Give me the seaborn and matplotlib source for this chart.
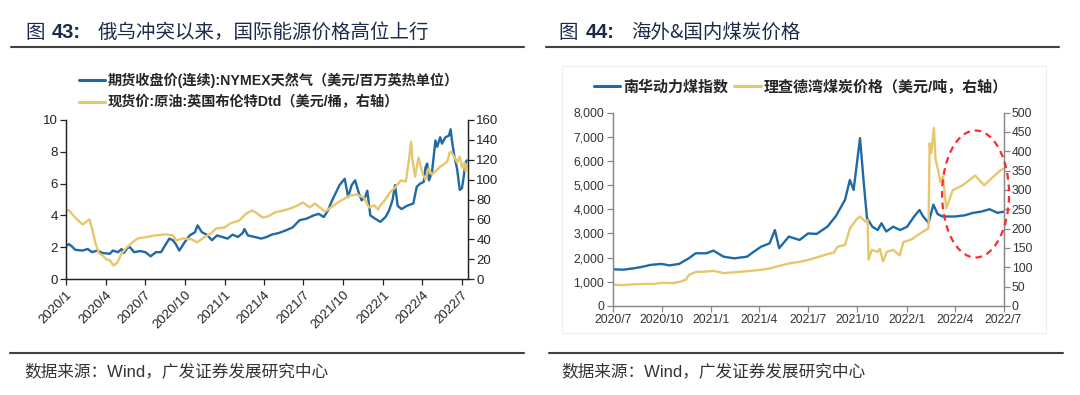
import numpy as np
import pandas as pd
import matplotlib
matplotlib.use("Agg")
import matplotlib.pyplot as plt
from matplotlib.lines import Line2D
from matplotlib.patches import Ellipse, Rectangle
from matplotlib.ticker import FuncFormatter
import seaborn as sns

# ---------------- data ----------------
# Fig 43 - NYMEX natural gas (left axis) and Brent Dtd (right axis)
ng_dates = ["2020-01-01", "2020-01-08", "2020-01-15", "2020-01-22", "2020-02-08", "2020-02-20",
            "2020-03-01", "2020-03-13", "2020-03-25", "2020-04-11", "2020-04-18", "2020-04-30",
            "2020-05-08", "2020-05-13", "2020-05-20", "2020-05-26", "2020-06-06", "2020-06-20",
            "2020-07-02", "2020-07-14", "2020-07-26", "2020-08-07", "2020-08-18", "2020-08-26",
            "2020-09-03", "2020-09-10", "2020-09-18", "2020-10-01", "2020-10-12", "2020-10-24",
            "2020-10-30", "2020-11-09", "2020-11-20", "2020-12-02", "2020-12-14", "2020-12-26",
            "2021-01-07", "2021-01-19", "2021-01-31", "2021-02-11", "2021-02-15", "2021-02-23",
            "2021-03-11", "2021-03-26", "2021-04-07", "2021-04-19", "2021-05-05", "2021-05-20",
            "2021-06-06", "2021-06-22", "2021-07-08", "2021-07-24", "2021-08-05", "2021-08-17",
            "2021-08-26", "2021-09-06", "2021-09-14", "2021-09-22", "2021-10-04", "2021-10-12",
            "2021-10-20", "2021-10-28", "2021-11-05", "2021-11-12", "2021-11-20", "2021-11-25",
            "2021-12-02", "2021-12-13", "2021-12-25", "2022-01-06", "2022-01-14", "2022-01-22",
            "2022-01-28", "2022-02-03", "2022-02-12", "2022-02-24", "2022-03-11", "2022-03-19",
            "2022-03-27", "2022-04-04", "2022-04-08", "2022-04-12", "2022-04-16", "2022-04-23",
            "2022-05-01", "2022-05-05", "2022-05-12", "2022-05-16", "2022-05-24", "2022-06-01",
            "2022-06-05", "2022-06-08", "2022-06-13", "2022-06-20", "2022-06-26", "2022-07-01",
            "2022-07-05", "2022-07-09", "2022-07-12"]
ng_vals = [2.10, 2.20, 2.05, 1.85, 1.80, 1.90,
           1.70, 1.80, 1.65, 1.60, 1.80, 1.70,
           1.90, 1.65, 1.90, 2.05, 1.70, 1.77,
           1.70, 1.44, 1.70, 1.70, 2.20, 2.55,
           2.45, 2.20, 1.80, 2.35, 2.75, 2.95,
           3.38, 2.95, 2.80, 2.45, 2.75, 2.65,
           2.55, 2.80, 2.65, 2.90, 3.15, 2.75,
           2.65, 2.55, 2.65, 2.80, 2.90, 3.05,
           3.25, 3.70, 3.80, 4.00, 4.10, 3.90,
           4.30, 5.00, 5.45, 5.90, 6.30, 5.15,
           5.90, 6.20, 5.45, 4.95, 5.15, 5.55,
           4.00, 3.80, 3.60, 3.90, 4.30, 4.95,
           5.90, 4.60, 4.40, 4.60, 4.75, 5.80,
           6.00, 6.10, 7.00, 7.25, 6.20, 6.70,
           8.70, 8.30, 8.90, 8.50, 8.90, 9.00,
           9.40, 8.70, 7.80, 6.90, 5.60, 5.70,
           6.40, 7.25, 7.45]

brent_dates = ["2020-01-01", "2020-01-08", "2020-01-22", "2020-02-08", "2020-02-15", "2020-02-24",
               "2020-03-01", "2020-03-09", "2020-03-17", "2020-03-25", "2020-04-03", "2020-04-11",
               "2020-04-19", "2020-04-27", "2020-05-01", "2020-05-08", "2020-05-20", "2020-06-02",
               "2020-06-14", "2020-06-30", "2020-07-24", "2020-08-17", "2020-09-03", "2020-09-11",
               "2020-09-27", "2020-10-17", "2020-10-29", "2020-11-14", "2020-11-30", "2020-12-12",
               "2021-01-01", "2021-01-13", "2021-02-03", "2021-02-19", "2021-03-05", "2021-03-16",
               "2021-03-29", "2021-04-10", "2021-04-26", "2021-05-16", "2021-06-01", "2021-06-17",
               "2021-06-30", "2021-07-15", "2021-07-27", "2021-08-08", "2021-08-20", "2021-09-02",
               "2021-09-18", "2021-09-30", "2021-10-16", "2021-11-01", "2021-11-17", "2021-11-29",
               "2021-12-11", "2021-12-20", "2021-12-23", "2022-01-04", "2022-01-16", "2022-01-28",
               "2022-02-10", "2022-02-22", "2022-03-01", "2022-03-06", "2022-03-09", "2022-03-15",
               "2022-03-23", "2022-03-27", "2022-04-02", "2022-04-08", "2022-04-15", "2022-04-23",
               "2022-05-05", "2022-05-12", "2022-05-20", "2022-05-28", "2022-06-03", "2022-06-06",
               "2022-06-13", "2022-06-20", "2022-06-26", "2022-07-01", "2022-07-07", "2022-07-10",
               "2022-07-13"]
brent_vals = [70, 69, 62, 55, 57, 60,
              51, 36, 26, 24, 20, 19,
              14, 16, 19, 26, 32, 37,
              41, 42, 44, 45, 44, 39,
              41, 40, 37, 42, 46, 51,
              52, 56, 59, 66, 69, 66,
              62, 63, 67, 69, 71, 74,
              77, 72, 76, 72, 68, 72,
              77, 80, 84, 85, 82, 72,
              74, 70, 73, 79, 87, 92,
              99, 98, 120, 138, 120, 103,
              122, 115, 105, 100, 111, 105,
              110, 113, 115, 118, 127, 128,
              123, 117, 123, 112, 117, 108,
              115]

# Fig 44 - Nanhua thermal coal index (left axis) and Richards Bay coal (right axis)
coal_dates = ["2020-07-01", "2020-07-20", "2020-08-10", "2020-08-25", "2020-09-10", "2020-09-30",
              "2020-10-15", "2020-11-02", "2020-11-20", "2020-12-03", "2020-12-23", "2021-01-05",
              "2021-01-24", "2021-02-13", "2021-03-09", "2021-03-22", "2021-04-04", "2021-04-20",
              "2021-04-30", "2021-05-08", "2021-05-26", "2021-06-15", "2021-07-01", "2021-07-17",
              "2021-08-06", "2021-08-22", "2021-09-08", "2021-09-17", "2021-09-24", "2021-10-06",
              "2021-10-13", "2021-10-19", "2021-10-29", "2021-11-08", "2021-11-15", "2021-11-24",
              "2021-12-07", "2021-12-20", "2022-01-02", "2022-01-15", "2022-01-25", "2022-02-01",
              "2022-02-11", "2022-02-20", "2022-02-28", "2022-03-09", "2022-04-01", "2022-04-20",
              "2022-05-05", "2022-05-20", "2022-06-05", "2022-06-20", "2022-07-01"]
coal_vals = [1520, 1500, 1560, 1620, 1700, 1740,
             1680, 1740, 1970, 2180, 2180, 2290,
             2040, 1970, 2040, 2250, 2450, 2590,
             3140, 2390, 2870, 2730, 3000, 2980,
             3280, 3720, 4390, 5210, 4800, 6940,
             5080, 3630, 3280, 3140, 3420, 3080,
             3280, 3140, 3280, 3700, 3970, 3700,
             3440, 4190, 3800, 3700, 3700, 3750,
             3850, 3900, 4000, 3850, 3900]

rb_dates = ["2020-07-01", "2020-07-20", "2020-08-10", "2020-09-01", "2020-09-17", "2020-09-30",
            "2020-10-20", "2020-11-02", "2020-11-15", "2020-11-20", "2020-12-03", "2020-12-23",
            "2021-01-05", "2021-01-24", "2021-02-13", "2021-03-09", "2021-04-01", "2021-04-20",
            "2021-05-01", "2021-05-26", "2021-06-15", "2021-07-04", "2021-07-23", "2021-08-06",
            "2021-08-18", "2021-08-25", "2021-09-08", "2021-09-17", "2021-09-30", "2021-10-06",
            "2021-10-16", "2021-10-20", "2021-10-22", "2021-10-28", "2021-11-08", "2021-11-12",
            "2021-11-18", "2021-11-25", "2021-12-07", "2021-12-19", "2021-12-26", "2022-01-10",
            "2022-01-27", "2022-02-11", "2022-02-13", "2022-02-16", "2022-02-21", "2022-02-24",
            "2022-03-01", "2022-03-05", "2022-03-10", "2022-03-16", "2022-03-28", "2022-04-16",
            "2022-05-09", "2022-05-26", "2022-06-11", "2022-06-25", "2022-07-01"]
rb_vals = [55, 54, 56, 57, 57, 60,
           59, 62, 68, 80, 88, 89,
           91, 85, 87, 90, 93, 97,
           101, 110, 114, 120, 128, 134,
           138, 153, 158, 200, 225, 231,
           218, 222, 120, 145, 140, 148,
           115, 140, 145, 131, 165, 172,
           188, 201, 420, 395, 460, 380,
           350, 320, 335, 252, 299, 312,
           337, 312, 333, 350, 355]

left_ticks = ["2020-01", "2020-04", "2020-07", "2020-10", "2021-01", "2021-04", "2021-07",
              "2021-10", "2022-01", "2022-04", "2022-07"]
right_ticks = ["2020-07", "2020-10", "2021-01", "2021-04", "2021-07", "2021-10", "2022-01",
               "2022-04", "2022-07"]

title_l = "俄乌冲突以来，国际能源价格高位上行"
title_r = "海外&国内煤炭价格"
ng_label = "期货收盘价(连续):NYMEX天然气（美元/百万英热单位）"
brent_label = "现货价:原油:英国布伦特Dtd（美元/桶，右轴）"
coal_label = "南华动力煤指数"
rb_label = "理查德湾煤炭价格（美元/吨，右轴）"
source = "数据来源：Wind，广发证券发展研究中心"

# ---------------- style ----------------
sns.set_theme(style="ticks")
plt.rcParams['font.family'] = ['Noto Sans CJK SC', 'DejaVu Sans']
plt.rcParams['axes.unicode_minus'] = False

BLUE = '#1f69a5'
GOLD = '#e7c66e'
NAVY = '#1c2b4a'
LAT = ['Liberation Sans', 'Noto Sans CJK SC']

W, H = 1080, 395
fig = plt.figure(figsize=(W / 100, H / 100), dpi=100)
fig.patch.set_facecolor('white')


def fx(x):
    return x / W


def fy(y):
    return 1 - y / H


def hline(x0, x1, y, lw=1.5, color='#404040'):
    fig.add_artist(Line2D([fx(x0), fx(x1)], [fy(y), fy(y)], transform=fig.transFigure,
                          color=color, lw=lw))


def date_label(d):
    return f"{d.year}/{d.month}"


# ---------------- titles / rules / footer ----------------
for x0, num, x_num, x_txt, txt in [(25, "43:", 52, 98, title_l), (558, "44:", 586, 631, title_r)]:
    fig.text(fx(x0), fy(32), "图", fontsize=14, color=NAVY, va='center')
    fig.text(fx(x_num), fy(32), num, fontsize=14.5, color=NAVY, va='center', fontweight='bold',
             family=LAT)
    fig.text(fx(x_txt), fy(32), txt, fontsize=14, color=NAVY, va='center')
hline(11, 524, 47)
hline(546, 1059, 47)
hline(10, 524, 353)
hline(549, 1063, 353)
fig.text(fx(24), fy(371), source, fontsize=12, color='#333333', va='center', family=LAT)
fig.text(fx(561), fy(371), source, fontsize=12, color='#333333', va='center', family=LAT)

# faint frame of the right chart
fig.add_artist(Rectangle((fx(562), fy(333)), fx(1046) - fx(562), fy(66) - fy(333),
                         transform=fig.transFigure, fill=False, ec='#eeeeee', lw=0.8))

# ---------------- left chart ----------------
ax1 = fig.add_axes([fx(66), fy(279.3), fx(468) - fx(66), fy(119.7) - fy(279.3)])
ax1b = ax1.twinx()
sns.lineplot(x=pd.to_datetime(ng_dates), y=ng_vals, ax=ax1, color=BLUE, lw=1.7)
sns.lineplot(x=pd.to_datetime(brent_dates), y=brent_vals, ax=ax1b, color=GOLD, lw=1.7)
ax1.set_xlim(pd.Timestamp("2020-01-01"), pd.Timestamp("2022-07-15"))
ax1.set_ylim(0, 10)
ax1b.set_ylim(0, 160)
ax1.set_yticks(np.arange(0, 11, 2))
ax1b.set_yticks(np.arange(0, 161, 20))
lt = pd.to_datetime(left_ticks)
ax1.set_xticks(lt)
ax1.set_xticklabels([date_label(d) for d in lt], rotation=45, ha='right',
                    rotation_mode='anchor', family=LAT)
for a in (ax1, ax1b):
    a.set_xlabel('')
    a.set_ylabel('')
    a.spines['top'].set_visible(False)
    for s in ('left', 'right', 'bottom'):
        a.spines[s].set_color('#222222')
        a.spines[s].set_linewidth(0.9)
    a.tick_params(axis='both', direction='out', length=4, width=0.9, color='#222222',
                  labelsize=9.5, labelcolor='#222222', pad=2)
ax1.tick_params(axis='x', labelsize=9.5, pad=3)
for lab in ax1.get_yticklabels() + ax1b.get_yticklabels():
    lab.set_family(LAT)

h = [Line2D([], [], color=BLUE, lw=2.2), Line2D([], [], color=GOLD, lw=2.2)]
fig.legend(h, [ng_label, brent_label], loc='center left', bbox_to_anchor=(fx(79), fy(91)),
           frameon=False, handlelength=1.8, handletextpad=0.25,
           labelspacing=0.55, borderpad=0, borderaxespad=0,
           prop={'family': LAT, 'size': 10.2, 'weight': 'bold'})

# ---------------- right chart ----------------
ax2 = fig.add_axes([fx(612.7), fy(306), fx(1003.5) - fx(612.7), fy(112.5) - fy(306)])
ax2b = ax2.twinx()
sns.lineplot(x=pd.to_datetime(coal_dates), y=coal_vals, ax=ax2, color=BLUE, lw=1.7)
sns.lineplot(x=pd.to_datetime(rb_dates), y=rb_vals, ax=ax2b, color=GOLD, lw=1.7)
ax2.set_xlim(pd.Timestamp("2020-07-01"), pd.Timestamp("2022-07-01"))
ax2.set_ylim(0, 8000)
ax2b.set_ylim(0, 500)
ax2.set_yticks(np.arange(0, 8001, 1000))
ax2b.set_yticks(np.arange(0, 501, 50))
ax2.yaxis.set_major_formatter(FuncFormatter(lambda v, p: f"{int(v):,}"))
rt = pd.to_datetime(right_ticks)
ax2.set_xticks(rt)
ax2.set_xticklabels([date_label(d) for d in rt], family=LAT)
for a in (ax2, ax2b):
    a.set_xlabel('')
    a.set_ylabel('')
    a.spines['top'].set_visible(False)
    for s in ('left', 'right', 'bottom'):
        a.spines[s].set_color('#888888')
        a.spines[s].set_linewidth(0.9)
    a.tick_params(axis='both', direction='out', length=4, width=0.9, color='#888888',
                  labelsize=8.8, labelcolor='#333333', pad=2)
for lab in ax2.get_yticklabels() + ax2b.get_yticklabels():
    lab.set_family(LAT)

fig.legend(h, [coal_label, rb_label], loc='center left', bbox_to_anchor=(fx(594), fy(87)),
           frameon=False, ncol=2, handlelength=1.75, handletextpad=0.2, columnspacing=0.4,
           borderpad=0, borderaxespad=0,
           prop={'family': LAT, 'size': 10.8, 'weight': 'bold'})

# red dashed ellipse highlighting the recent period
fig.add_artist(Ellipse((fx(975.5), fy(194)), fx(67), 127 / H, transform=fig.transFigure,
                       fill=False, ec='#ff2b2b', lw=1.6, ls=(0, (3, 2.2))))

fig.savefig("out.png", dpi=100, facecolor='white')
